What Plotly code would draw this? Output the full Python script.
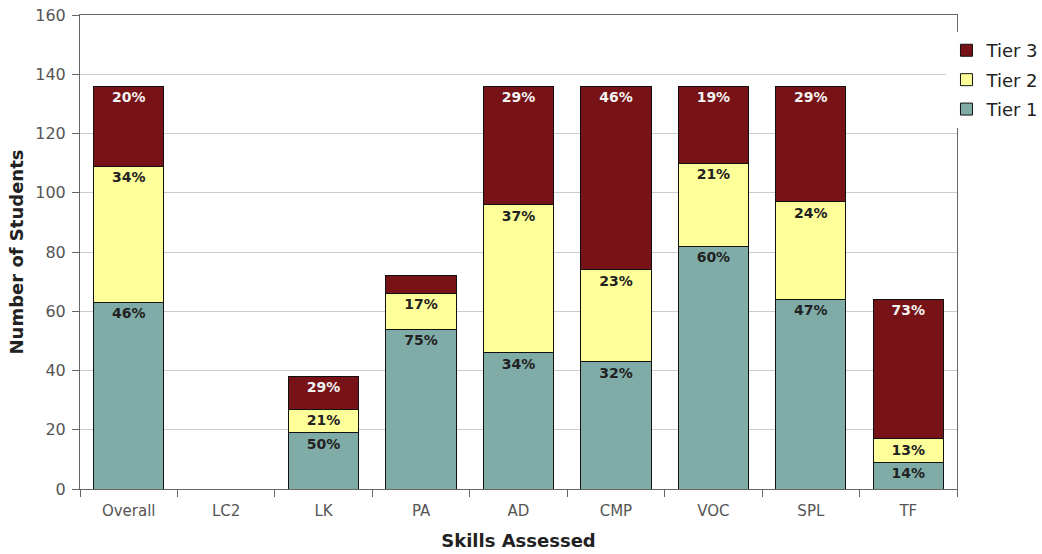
import plotly.graph_objects as go

categories = ["Overall", "LC2", "LK", "PA", "AD", "CMP", "VOC", "SPL", "TF"]
tier1 = [63, None, 19, 54, 46, 43, 82, 64, 9]
tier2 = [46, None, 8, 12, 50, 31, 28, 33, 8]
tier3 = [27, None, 11, 6, 40, 62, 26, 39, 47]
tier1_lbl = ["46%", "", "50%", "75%", "34%", "32%", "60%", "47%", "14%"]
tier2_lbl = ["34%", "", "21%", "17%", "37%", "23%", "21%", "24%", "13%"]
tier3_lbl = ["20%", "", "29%", "", "29%", "46%", "19%", "29%", "73%"]

font_family = "DejaVu Sans, Verdana, sans-serif"

fig = go.Figure()
series = [
    ("Tier 1", tier1, tier1_lbl, "#80aca8", "#222222", 3),
    ("Tier 2", tier2, tier2_lbl, "#ffff99", "#222222", 2),
    ("Tier 3", tier3, tier3_lbl, "#771216", "#f2f2f2", 1),
]
for name, vals, lbls, color, tcolor, rank in series:
    fig.add_trace(go.Bar(
        x=categories, y=vals, name=name, text=lbls, legendgroup=name,
        legendrank=rank,
        textposition="inside", insidetextanchor="end", textangle=0,
        constraintext="none",
        textfont=dict(family=font_family, size=14, color=tcolor, weight="bold"),
        marker=dict(color=color, line=dict(color="#111111", width=1)),
        hoverinfo="skip",
    ))

fig.update_layout(
    barmode="stack",
    bargap=0.28,
    width=1042, height=554,
    margin=dict(l=80, r=85, t=15, b=65, autoexpand=False),
    paper_bgcolor="white", plot_bgcolor="white",
    font=dict(family=font_family, size=15, color="#555555"),
    legend=dict(
        x=0.988, y=0.964, xanchor="left", yanchor="top",
        traceorder="grouped",
        font=dict(family=font_family, size=18, color="#222222"),
        bgcolor="white", itemclick=False,
        tracegroupgap=3,
    ),
    showlegend=True,
)
fig.update_yaxes(
    range=[0, 160], dtick=20, showgrid=True, gridcolor="#cccccc", gridwidth=1,
    showline=True, linecolor="#666666", linewidth=1, mirror=True,
    ticks="outside", ticklen=7, tickcolor="#666666", ticklabelstandoff=3,
    tickfont=dict(size=16, color="#555555"),
    zeroline=False, automargin=False,
    title=dict(text="<b>Number of Students</b>", font=dict(size=18, color="#222222"), standoff=6),
)
fig.update_xaxes(
    showline=True, linecolor="#666666", linewidth=1, mirror=True,
    ticks="outside", ticklen=7, tickcolor="#666666", tickson="boundaries",
    ticklabelstandoff=8,
    tickfont=dict(size=15, color="#555555"), automargin=False,
    title=dict(text="<b>Skills Assessed</b>", font=dict(size=18, color="#222222"), standoff=15),
)

fig.write_html(
    "out.html",
    config={"displayModeBar": False},
    post_script="document.body.style.margin='0';document.body.style.overflow='hidden';",
)
